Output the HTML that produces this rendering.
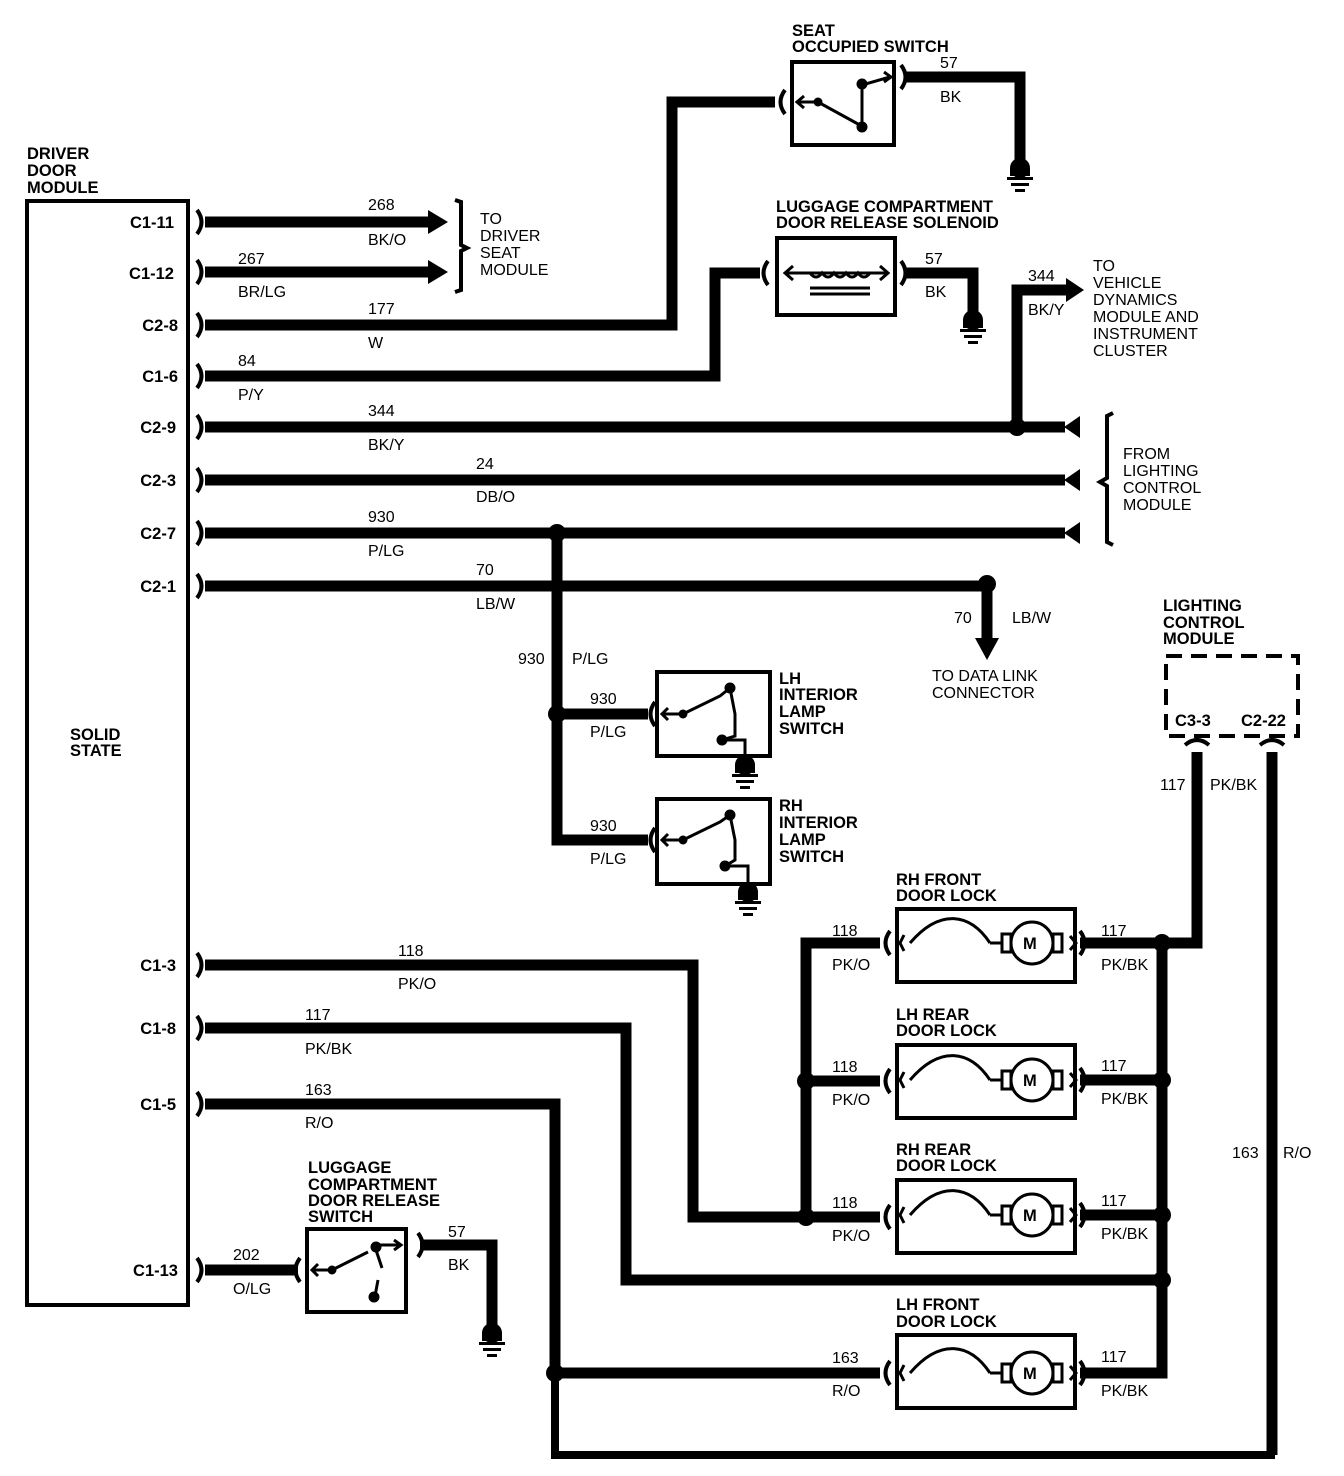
<!DOCTYPE html>
<html><head><meta charset="utf-8"><style>
html,body{margin:0;padding:0;background:#fff;}
svg{display:block;}
text{font-family:"Liberation Sans",sans-serif;fill:#000;}
.b{font-weight:bold;font-size:16.5px;}
.w{font-size:16px;}
</style></head><body>
<svg width="1344" height="1476" viewBox="0 0 1344 1476" xmlns="http://www.w3.org/2000/svg">
<defs>
<g id="gnd"><circle cx="0" cy="0" r="10"/><rect x="-10" y="0" width="20" height="8"/><rect x="-13" y="9" width="26" height="3"/><rect x="-9" y="15" width="18" height="3"/><rect x="-5" y="21" width="10" height="3"/></g>
<g id="motor" fill="none" stroke="#000" stroke-width="3">
<path d="M10 0 C40 -35 70 -30 90 0"/>
<line x1="90" y1="0" x2="102" y2="0"/>
<rect x="102" y="-9" width="9" height="18"/>
<circle cx="132" cy="0" r="21"/>
<rect x="153" y="-9" width="9" height="18"/>
<path d="M4 -8 L0 0 L4 8 M170 -7 L176 0 L170 7"/>
</g>
</defs>
<g fill="none" stroke="#000" stroke-width="11">
<line x1="205" y1="222" x2="430" y2="222"/>
<line x1="205" y1="272" x2="430" y2="272"/>
<polyline points="205,325 672,325 672,102 775,102"/>
<polyline points="205,376 715,376 715,273 760,273"/>
<line x1="205" y1="427" x2="1065" y2="427"/>
<polyline points="1017,427 1017,290 1070,290"/>
<line x1="205" y1="480" x2="1065" y2="480"/>
<line x1="205" y1="533" x2="1065" y2="533"/>
<line x1="205" y1="586" x2="985" y2="586"/>
<line x1="987" y1="590" x2="987" y2="642"/>
<polyline points="557,533 557,840 648,840"/>
<line x1="557" y1="714" x2="648" y2="714"/>
<polyline points="205,965 693,965 693,1217 806,1217"/>
<polyline points="880,943 806,943 806,1217 880,1217"/>
<line x1="806" y1="1081" x2="880" y2="1081"/>
<polyline points="205,1028 626,1028 626,1280 1162,1280"/>
<polyline points="205,1104 555,1104 555,1373 880,1373"/>
<polyline points="1080,943 1162,943 1162,1373 1080,1373"/>
<line x1="1080" y1="1080" x2="1162" y2="1080"/>
<line x1="1080" y1="1215" x2="1162" y2="1215"/>
<polyline points="1162,943 1197,943 1197,752"/>
<line x1="1272" y1="752" x2="1272" y2="1455"/>
<line x1="205" y1="1270" x2="298" y2="1270"/>
<polyline points="420,1245 492,1245 492,1325"/>
<polyline points="905,77 1020,77 1020,160"/>
<polyline points="905,273 973,273 973,312"/>
</g>
<polyline points="555,1373 555,1455 1275,1455" fill="none" stroke="#000" stroke-width="8"/>
<polygon points="428,210 448,222 428,234"/>
<polygon points="428,260 448,272 428,284"/>
<polygon points="1066,278 1084,290 1066,302"/>
<polygon points="975,638 999,638 987,660"/>
<polygon points="1080,416 1064,427 1080,438"/>
<polygon points="1080,469 1064,480 1080,491"/>
<polygon points="1080,522 1064,533 1080,544"/>
<g>
<circle cx="1017" cy="427" r="9"/><circle cx="557" cy="533" r="9"/><circle cx="987" cy="584" r="9"/>
<circle cx="557" cy="714" r="9"/><circle cx="806" cy="1081" r="9"/><circle cx="806" cy="1217" r="9"/>
<circle cx="1162" cy="943" r="9"/><circle cx="1162" cy="1080" r="9"/><circle cx="1162" cy="1215" r="9"/><circle cx="1162" cy="1280" r="9"/>
<circle cx="555" cy="1373" r="9"/>
</g>
<use href="#gnd" x="1020" y="168"/>
<use href="#gnd" x="973" y="320"/>
<use href="#gnd" x="492" y="1333"/>
<use href="#gnd" x="745" y="765"/>
<use href="#gnd" x="748" y="892"/>
<rect x="27" y="201" width="161" height="1104" fill="none" stroke="#000" stroke-width="4"/>
<g fill="none" stroke="#000" stroke-width="4">
<path d="M197 210 Q206 222 197 234"/><path d="M197 260 Q206 272 197 284"/>
<path d="M197 313 Q206 325 197 337"/><path d="M197 364 Q206 376 197 388"/>
<path d="M197 415 Q206 427 197 439"/><path d="M197 468 Q206 480 197 492"/>
<path d="M197 521 Q206 533 197 545"/><path d="M197 574 Q206 586 197 598"/>
<path d="M197 953 Q206 965 197 977"/><path d="M197 1016 Q206 1028 197 1040"/>
<path d="M197 1092 Q206 1104 197 1116"/><path d="M197 1258 Q206 1270 197 1282"/>
<path d="M785 90 Q776 102 785 114"/><path d="M768 261 Q759 273 768 285"/>
<path d="M655 702 Q646 714 655 726"/><path d="M655 828 Q646 840 655 852"/>
<path d="M890 931 Q881 943 890 955"/><path d="M890 1069 Q881 1081 890 1093"/>
<path d="M890 1205 Q881 1217 890 1229"/><path d="M890 1361 Q881 1373 890 1385"/>
<path d="M300 1258 Q291 1270 300 1282"/>
<path d="M901 65 Q910 77 901 89"/><path d="M901 261 Q910 273 901 285"/>
<path d="M1080 931 Q1089 943 1080 955"/><path d="M1080 1068 Q1089 1080 1080 1092"/>
<path d="M1080 1203 Q1089 1215 1080 1227"/><path d="M1080 1361 Q1089 1373 1080 1385"/>
<path d="M418 1233 Q427 1245 418 1257"/>
<path d="M1185 745 Q1197 735 1209 745"/><path d="M1260 745 Q1272 735 1284 745"/>
<path d="M455 200 L461 202 L461 245 L467 248 L461 251 L461 290 L455 292"/>
<path d="M1113 413 L1107 416 L1107 478 L1100 482 L1107 486 L1107 542 L1113 545"/>
</g>
<g fill="none" stroke="#000" stroke-width="4">
<rect x="792" y="62" width="102" height="83"/>
<rect x="777" y="238" width="118" height="77"/>
<rect x="657" y="672" width="113" height="84"/>
<rect x="657" y="799" width="113" height="85"/>
<rect x="897" y="909" width="178" height="73"/>
<rect x="897" y="1045" width="178" height="73"/>
<rect x="897" y="1180" width="178" height="73"/>
<rect x="897" y="1335" width="178" height="73"/>
<rect x="307" y="1229" width="99" height="83"/>
<rect x="1166" y="656" width="132" height="80" stroke-dasharray="16 9"/>
</g>
<g fill="none" stroke="#000" stroke-width="3">
<path d="M798 102 L818 102 L858 124 M862 127 L862 85 L890 77 M884 72 L891 77 L884 82 M804 96 L797 102 L804 108"/>
<circle cx="818" cy="102" r="3" fill="#000"/><circle cx="862" cy="127" r="4" fill="#000"/><circle cx="862" cy="84" r="4" fill="#000"/>
<path d="M785 273 L888 273 M793 266 L785 273 L793 280 M880 266 L888 273 L880 280"/>
<path d="M810 273 q6 8 12 0 q6 8 12 0 q6 8 12 0 q6 8 12 0 q6 8 12 0"/>
<line x1="810" y1="288" x2="870" y2="288"/><line x1="810" y1="294" x2="870" y2="294"/>
<path d="M662 714 L683 714 L720 696 L730 688 L735 714 L735 736 L722 740 M722 740 L745 740 L745 756 M668 708 L662 714 L668 720"/>
<circle cx="683" cy="714" r="3" fill="#000"/><circle cx="730" cy="688" r="4" fill="#000"/><circle cx="722" cy="740" r="4" fill="#000"/>
<path d="M662 840 L683 840 L720 822 L730 815 L735 840 L735 860 L725 866 M725 866 L748 866 L748 884 M668 834 L662 840 L668 846"/>
<circle cx="683" cy="840" r="3" fill="#000"/><circle cx="730" cy="815" r="4" fill="#000"/><circle cx="725" cy="866" r="4" fill="#000"/>
<path d="M312 1270 L332 1270 L368 1252 M376 1245 L400 1245 M376 1250 L382 1268 M378 1280 L375 1296 M318 1264 L312 1270 L318 1276 M394 1240 L401 1245 L394 1250"/>
<circle cx="332" cy="1270" r="3" fill="#000"/><circle cx="376" cy="1247" r="4" fill="#000"/><circle cx="374" cy="1297" r="4" fill="#000"/>
</g>
<use href="#motor" x="900" y="943"/>
<use href="#motor" x="900" y="1080"/>
<use href="#motor" x="900" y="1215"/>
<use href="#motor" x="900" y="1373"/>
<g class="b"><text x="1023" y="949">M</text><text x="1023" y="1086">M</text><text x="1023" y="1221">M</text><text x="1023" y="1379">M</text></g>
<g class="b">
<text x="27" y="159">DRIVER</text><text x="27" y="176">DOOR</text><text x="27" y="193">MODULE</text>
<text x="70" y="740">SOLID</text><text x="70" y="756">STATE</text>
<text x="792" y="36">SEAT</text><text x="792" y="52">OCCUPIED SWITCH</text>
<text x="776" y="212">LUGGAGE COMPARTMENT</text><text x="776" y="228">DOOR RELEASE SOLENOID</text>
<text x="779" y="684">LH</text><text x="779" y="700">INTERIOR</text><text x="779" y="717">LAMP</text><text x="779" y="734">SWITCH</text>
<text x="779" y="811">RH</text><text x="779" y="828">INTERIOR</text><text x="779" y="845">LAMP</text><text x="779" y="862">SWITCH</text>
<text x="1163" y="611">LIGHTING</text><text x="1163" y="628">CONTROL</text><text x="1163" y="644">MODULE</text>
<text x="1175" y="726">C3-3</text><text x="1241" y="726">C2-22</text>
<text x="896" y="885">RH FRONT</text><text x="896" y="901">DOOR LOCK</text>
<text x="896" y="1020">LH REAR</text><text x="896" y="1036">DOOR LOCK</text>
<text x="896" y="1155">RH REAR</text><text x="896" y="1171">DOOR LOCK</text>
<text x="896" y="1310">LH FRONT</text><text x="896" y="1327">DOOR LOCK</text>
<text x="308" y="1173">LUGGAGE</text><text x="308" y="1190">COMPARTMENT</text><text x="308" y="1206">DOOR RELEASE</text><text x="308" y="1222">SWITCH</text>
</g>
<g class="b" text-anchor="end">
<text x="174" y="228">C1-11</text><text x="174" y="279">C1-12</text><text x="178" y="331">C2-8</text><text x="178" y="382">C1-6</text>
<text x="176" y="433">C2-9</text><text x="176" y="486">C2-3</text><text x="176" y="539">C2-7</text><text x="176" y="592">C2-1</text>
<text x="176" y="971">C1-3</text><text x="176" y="1034">C1-8</text><text x="176" y="1110">C1-5</text><text x="178" y="1276">C1-13</text>
</g>
<g class="w">
<text x="480" y="224">TO</text><text x="480" y="241">DRIVER</text><text x="480" y="258">SEAT</text><text x="480" y="275">MODULE</text>
<text x="1093" y="271">TO</text><text x="1093" y="288">VEHICLE</text><text x="1093" y="305">DYNAMICS</text><text x="1093" y="322">MODULE AND</text><text x="1093" y="339">INSTRUMENT</text><text x="1093" y="356">CLUSTER</text>
<text x="1123" y="459">FROM</text><text x="1123" y="476">LIGHTING</text><text x="1123" y="493">CONTROL</text><text x="1123" y="510">MODULE</text>
<text x="932" y="681">TO DATA LINK</text><text x="932" y="698">CONNECTOR</text>
<text x="368" y="210">268</text><text x="368" y="245">BK/O</text>
<text x="238" y="264">267</text><text x="238" y="297">BR/LG</text>
<text x="368" y="314">177</text><text x="368" y="348">W</text>
<text x="238" y="366">84</text><text x="238" y="400">P/Y</text>
<text x="368" y="416">344</text><text x="368" y="450">BK/Y</text>
<text x="476" y="469">24</text><text x="476" y="502">DB/O</text>
<text x="368" y="522">930</text><text x="368" y="556">P/LG</text>
<text x="476" y="575">70</text><text x="476" y="609">LB/W</text>
<text x="954" y="623">70</text><text x="1012" y="623">LB/W</text>
<text x="518" y="664">930</text><text x="572" y="664">P/LG</text>
<text x="590" y="704">930</text><text x="590" y="737">P/LG</text>
<text x="590" y="831">930</text><text x="590" y="864">P/LG</text>
<text x="940" y="68">57</text><text x="940" y="102">BK</text>
<text x="925" y="264">57</text><text x="925" y="297">BK</text>
<text x="1028" y="281">344</text><text x="1028" y="315">BK/Y</text>
<text x="1160" y="790">117</text><text x="1210" y="790">PK/BK</text>
<text x="1232" y="1158">163</text><text x="1283" y="1158">R/O</text>
<text x="398" y="956">118</text><text x="398" y="989">PK/O</text>
<text x="305" y="1020">117</text><text x="305" y="1054">PK/BK</text>
<text x="305" y="1095">163</text><text x="305" y="1128">R/O</text>
<text x="233" y="1260">202</text><text x="233" y="1294">O/LG</text>
<text x="448" y="1237">57</text><text x="448" y="1270">BK</text>
<text x="832" y="936">118</text><text x="832" y="970">PK/O</text>
<text x="832" y="1072">118</text><text x="832" y="1105">PK/O</text>
<text x="832" y="1208">118</text><text x="832" y="1241">PK/O</text>
<text x="832" y="1363">163</text><text x="832" y="1396">R/O</text>
<text x="1101" y="936">117</text><text x="1101" y="970">PK/BK</text>
<text x="1101" y="1071">117</text><text x="1101" y="1104">PK/BK</text>
<text x="1101" y="1206">117</text><text x="1101" y="1239">PK/BK</text>
<text x="1101" y="1362">117</text><text x="1101" y="1396">PK/BK</text>
</g>
</svg>
</body></html>
